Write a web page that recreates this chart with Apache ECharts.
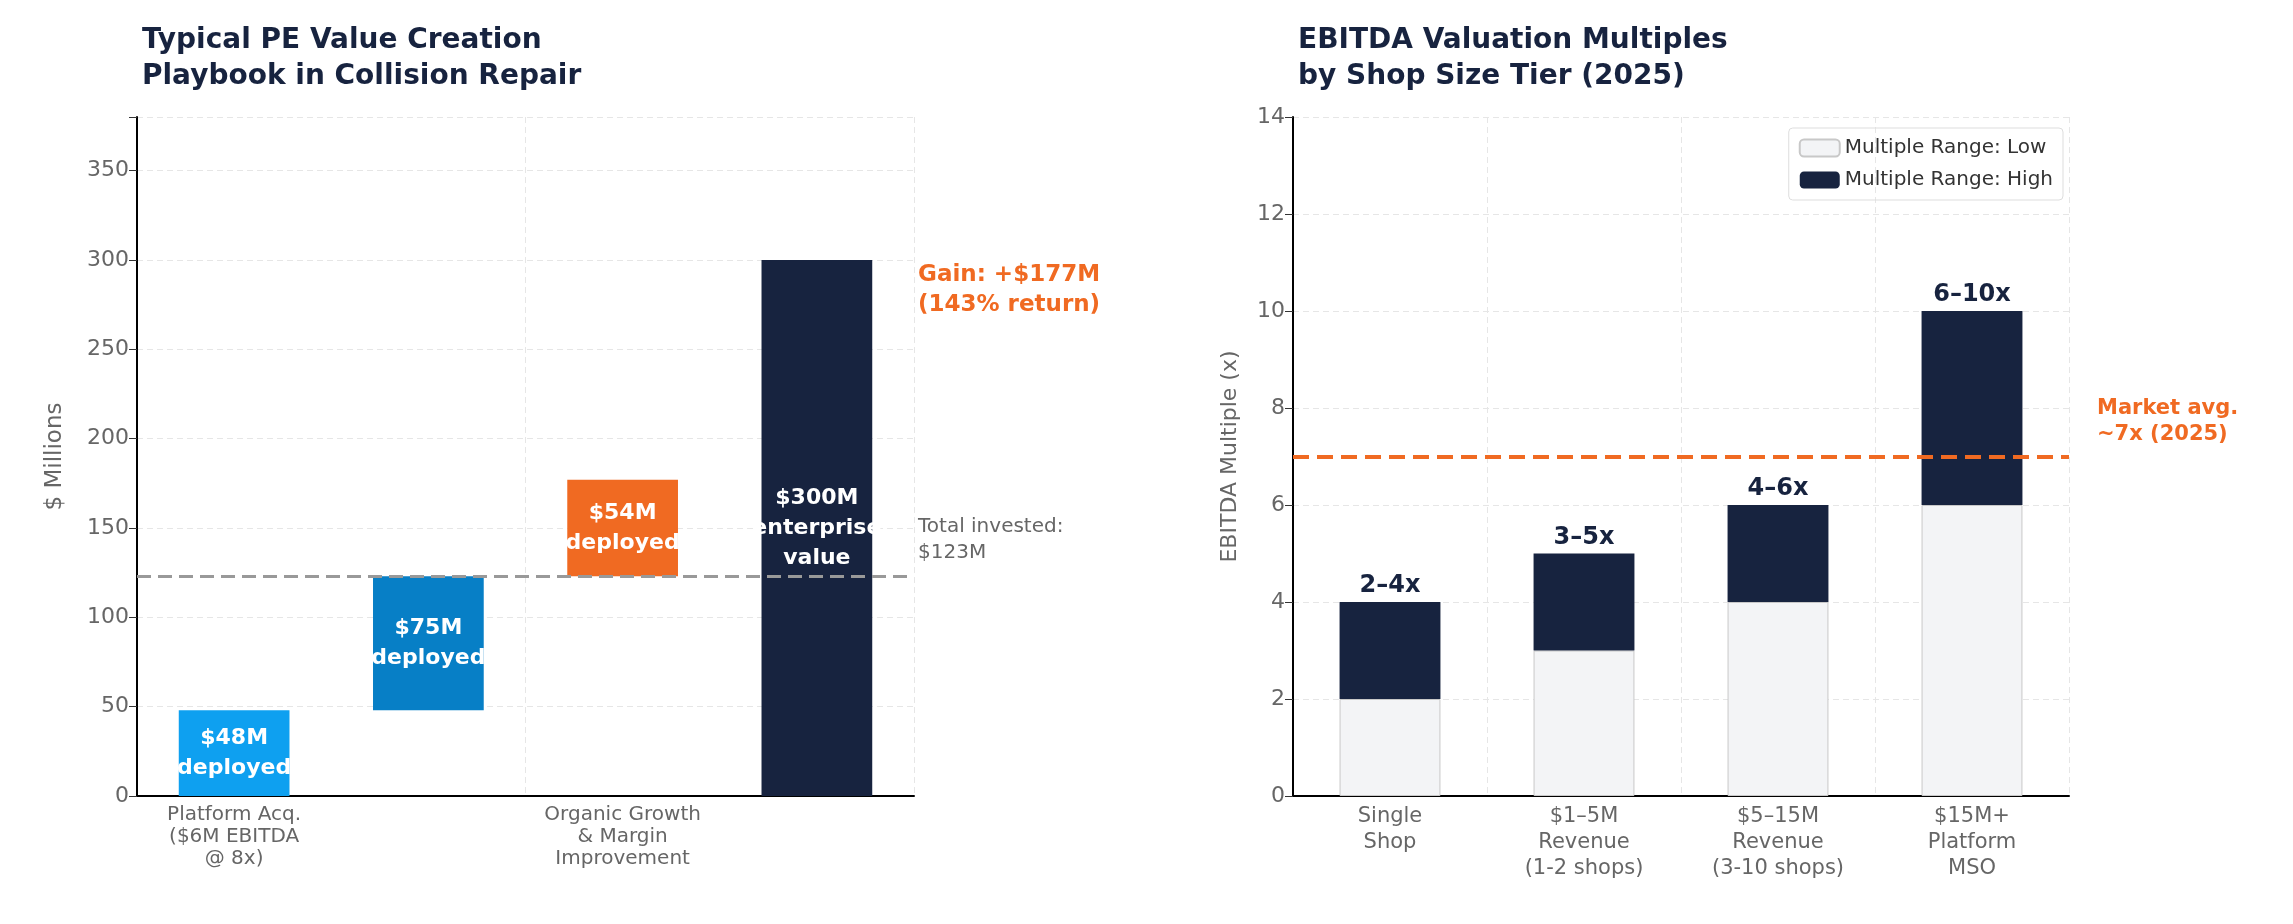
<!DOCTYPE html>
<html>
<head>
<meta charset="utf-8">
<script src="https://cdn.jsdelivr.net/npm/echarts@6/dist/echarts.min.js"></script>
<style>
html,body{margin:0;padding:0;background:#fff;}
#main{width:2293px;height:924px;}
</style>
</head>
<body>
<div id="main"></div>
<script>
// left: waterfall
var stepCats = ['Platform Acq.\n($6M EBITDA\n@ 8x)', 'Add-On Acqs.\n(30 shops\n@ 5x)', 'Organic Growth\n& Margin\nImprovement', 'Re-cap\n($30M EBITDA\n@ 10x)'];
var stepBase = [0, 48, 123, 0];
var stepValue = [48, 75, 54, 300];
var stepLabels = ['$48M\ndeployed', '$75M\ndeployed', '$54M\ndeployed', '$300M\nenterprise\nvalue'];
var stepColors = ['#0ea0f0', '#077fc6', '#f06a22', '#17233f'];
var totalInvested = 123;

// right: multiples
var tierCats = ['Single\nShop', '$1–5M\nRevenue\n(1-2 shops)', '$5–15M\nRevenue\n(3-10 shops)', '$15M+\nPlatform\nMSO'];
var lowVals = [2, 3, 4, 6];
var highVals = [4, 5, 6, 10];
var rangeLabels = ['2–4x', '3–5x', '4–6x', '6–10x'];
var marketAvg = 7;

var navy = '#17233f', orange = '#f06a22', grey = '#666';
var font = 'DejaVu Sans';
var chart = echarts.init(document.getElementById('main'));

var axisLbl = {color: grey, fontSize: 20, fontFamily: font, lineHeight: 22};
var split = {show: true, lineStyle: {color: '#e6e6e6', type: [6, 4]}};

chart.setOption({
  animation: false,
  textStyle: {fontFamily: font},
  title: [
    {text: 'Typical PE Value Creation\nPlaybook in Collision Repair', left: 137, top: 18,
     textStyle: {color: navy, fontSize: 28, fontWeight: 'bold', lineHeight: 36, fontFamily: font}},
    {text: 'EBITDA Valuation Multiples\nby Shop Size Tier (2025)', left: 1293, top: 18,
     textStyle: {color: navy, fontSize: 28, fontWeight: 'bold', lineHeight: 36, fontFamily: font}}
  ],
  legend: {
    data: ['Multiple Range: Low', 'Multiple Range: High'],
    orient: 'vertical', right: 230, top: 128, itemWidth: 40, itemHeight: 17, itemGap: 12,
    padding: [10, 10], borderColor: '#ddd', borderWidth: 1, borderRadius: 4,
    textStyle: {color: '#333', fontSize: 20, fontFamily: font}
  },
  grid: [
    {left: 137, width: 777, top: 117, height: 679},
    {left: 1293, width: 776, top: 117, height: 679}
  ],
  xAxis: [
    {type: 'category', gridIndex: 0, data: stepCats,
     axisLine: {lineStyle: {color: '#000', width: 2}}, axisTick: {alignWithLabel: true, length: 8, lineStyle: {color: '#333'}},
     axisLabel: axisLbl, splitLine: split},
    {type: 'category', gridIndex: 1, data: tierCats,
     axisLine: {lineStyle: {color: '#000', width: 2}}, axisTick: {alignWithLabel: true, length: 8, lineStyle: {color: '#333'}},
     axisLabel: Object.assign({}, axisLbl, {fontSize: 21, lineHeight: 26}), splitLine: split}
  ],
  yAxis: [
    {type: 'value', gridIndex: 0, min: 0, max: 380, interval: 50, name: '$ Millions',
     nameLocation: 'middle', nameGap: 70, nameTextStyle: {color: grey, fontSize: 23, fontFamily: font},
     axisLine: {show: true, lineStyle: {color: '#000', width: 2}}, axisTick: {show: true, length: 8, lineStyle: {color: '#333'}},
     axisLabel: Object.assign({}, axisLbl, {fontSize: 22, formatter: function (v) { return v > 350 ? '' : v; }}), splitLine: split},
    {type: 'value', gridIndex: 1, min: 0, max: 14, interval: 2, name: 'EBITDA Multiple (x)',
     nameLocation: 'middle', nameGap: 52, nameTextStyle: {color: grey, fontSize: 22, fontFamily: font},
     axisLine: {show: true, lineStyle: {color: '#000', width: 2}}, axisTick: {show: true, length: 8, lineStyle: {color: '#333'}},
     axisLabel: Object.assign({}, axisLbl, {fontSize: 22}), splitLine: split}
  ],
  series: [
    {type: 'bar', xAxisIndex: 0, yAxisIndex: 0, stack: 'wf', data: stepBase, barWidth: '57%',
     itemStyle: {color: 'transparent'}, silent: true},
    {type: 'bar', xAxisIndex: 0, yAxisIndex: 0, stack: 'wf', barWidth: '57%',
     data: stepValue.map(function (v, i) {
       return {value: v, itemStyle: {color: stepColors[i]},
               label: {formatter: stepLabels[i]}};
     }),
     label: {show: true, position: 'inside', color: '#fff', fontSize: 22, fontWeight: 'bold', lineHeight: 30, fontFamily: font},
     markLine: {symbol: 'none', silent: true,
       lineStyle: {color: '#999', type: [14, 7], width: 3},
       label: {show: false},
       data: [{yAxis: totalInvested}]}
    },
    {type: 'bar', xAxisIndex: 1, yAxisIndex: 1, stack: 'm', name: 'Multiple Range: Low', data: lowVals, barWidth: '52%',
     itemStyle: {color: '#f3f4f6', borderColor: '#c8c8c8', borderWidth: 1},
     markLine: {symbol: 'none', silent: true,
       lineStyle: {color: orange, type: [16, 8], width: 4},
       label: {show: false},
       data: [{yAxis: marketAvg}]}
    },
    {type: 'bar', xAxisIndex: 1, yAxisIndex: 1, stack: 'm', name: 'Multiple Range: High',
     data: highVals.map(function (v, i) { return v - lowVals[i]; }), barWidth: '52%',
     itemStyle: {color: navy},
     label: {show: true, position: 'top', distance: 4, color: navy, fontSize: 24, fontWeight: 'bold', fontFamily: font,
       formatter: function (p) { return rangeLabels[p.dataIndex]; }}}
  ],
  graphic: [
    {type: 'text', left: 918, top: 260, style: {text: 'Gain: +$177M\n(143% return)', fill: orange, font: 'bold 23px "DejaVu Sans"', lineHeight: 30}},
    {type: 'text', left: 918, top: 514, style: {text: 'Total invested:\n$123M', fill: grey, font: '20px "DejaVu Sans"', lineHeight: 26}},
    {type: 'text', left: 2097, top: 396, style: {text: 'Market avg.\n~7x (2025)', fill: orange, font: 'bold 21px "DejaVu Sans"', lineHeight: 26}}
  ]
});
</script>
</body>
</html>
